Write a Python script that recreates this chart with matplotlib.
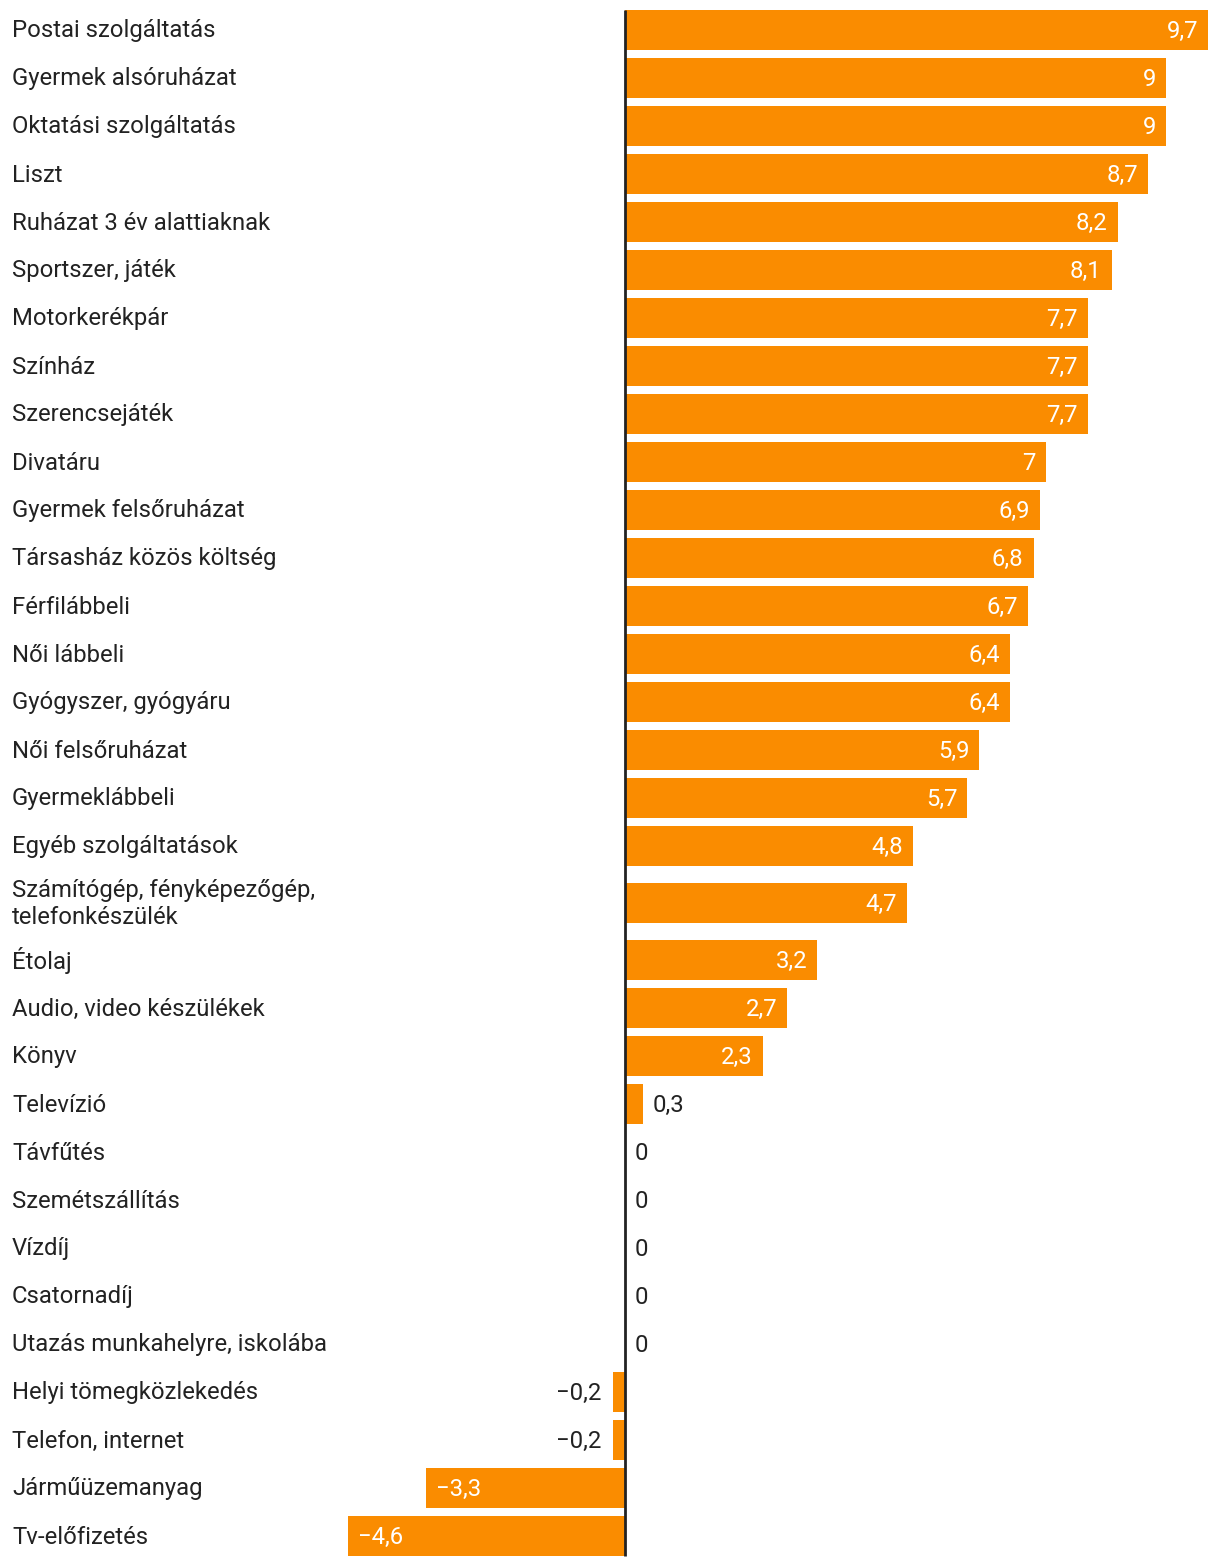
import matplotlib
matplotlib.use("Agg")
from matplotlib import pyplot as plt
from matplotlib.transforms import blended_transform_factory
import numpy as np

plt.rcParams['font.family'] = ['Roboto', 'DejaVu Sans']

labels = [
    'Postai szolgáltatás', 'Gyermek alsóruházat', 'Oktatási szolgáltatás', 'Liszt',
    'Ruházat 3 év alattiaknak', 'Sportszer, játék', 'Motorkerékpár', 'Színház',
    'Szerencsejáték', 'Divatáru', 'Gyermek felsőruházat', 'Társasház közös költség',
    'Férfilábbeli', 'Női lábbeli', 'Gyógyszer, gyógyáru', 'Női felsőruházat',
    'Gyermeklábbeli', 'Egyéb szolgáltatások',
    'Számítógép, fényképezőgép,\ntelefonkészülék',
    'Étolaj', 'Audio, video készülékek', 'Könyv', 'Televízió', 'Távfűtés',
    'Szemétszállítás', 'Vízdíj', 'Csatornadíj', 'Utazás munkahelyre, iskolába',
    'Helyi tömegközlekedés', 'Telefon, internet', 'Járműüzemanyag', 'Tv-előfizetés',
]
values = [9.7, 9, 9, 8.7, 8.2, 8.1, 7.7, 7.7, 7.7, 7, 6.9, 6.8, 6.7, 6.4, 6.4, 5.9,
          5.7, 4.8, 4.7, 3.2, 2.7, 2.3, 0.3, 0, 0, 0, 0, 0, -0.2, -0.2, -3.3, -4.6]

W, H = 1220, 1566
ORANGE = '#fa8c00'
DARK = '#222222'
FS = 17.2

# row layout in pixels: one-line rows 48 px, two-line rows a bit taller
heights = np.array([48 + 18 * l.count('\n') for l in labels])
tops = 6 + np.concatenate([[0], np.cumsum(heights)[:-1]])
ys = tops + heights / 2

fig = plt.figure(figsize=(W / 100, H / 100), dpi=100)
x0, x1 = 348, 1208
ax = fig.add_axes([x0 / W, 0, (x1 - x0) / W, 1])
ax.set_xlim(min(values), max(values))
ax.set_ylim(H, 0)
ax.axis('off')

ax.barh(ys, values, height=40, color=ORANGE, linewidth=0)
ax.plot([0, 0], [10, 1556], color=DARK, lw=2, solid_capstyle='butt')

ppu = (x1 - x0) / (max(values) - min(values))  # pixels per unit
pad = 10 / ppu

def fmt(v):
    s = ('%g' % v).replace('.', ',')
    return s.replace('-', '\u2212')

lt = blended_transform_factory(fig.transFigure, ax.transData)
for lab, v, y in zip(labels, values, ys):
    fig.text(12 / W, y + 1, lab, transform=lt, ha='left', va='center',
             fontsize=FS, color=DARK, linespacing=1.22)
    txt = fmt(v)
    inside = abs(v) * ppu > 60
    if v > 0:
        if inside:
            ax.text(v - pad, y + 1, txt, ha='right', va='center', fontsize=FS, color='white')
        else:
            ax.text(v + pad, y + 1, txt, ha='left', va='center', fontsize=FS, color=DARK)
    elif v < 0:
        if inside:
            ax.text(v + pad, y + 1, txt, ha='left', va='center', fontsize=FS, color='white')
        else:
            ax.text(v - pad * 1.1, y + 1, txt, ha='right', va='center', fontsize=FS, color=DARK)
    else:
        ax.text(pad, y + 1, txt, ha='left', va='center', fontsize=FS, color=DARK)

plt.savefig('out.png', dpi=100)
